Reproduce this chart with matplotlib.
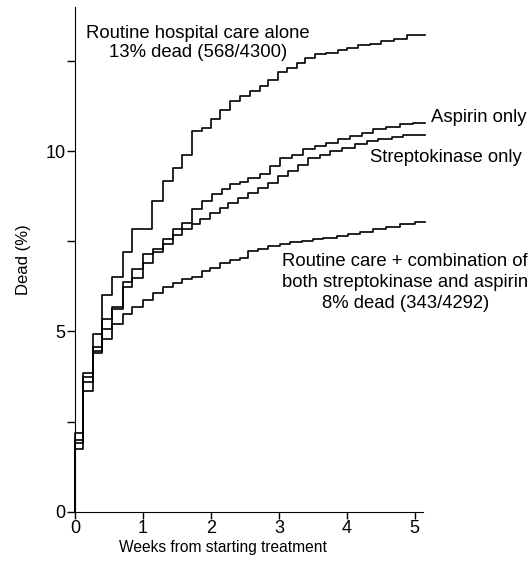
import matplotlib.pyplot as plt
from matplotlib.ticker import MultipleLocator

plt.rcParams["font.family"] = ["Liberation Sans", "DejaVu Sans"]

# step curves: (weeks at which the step starts, % dead)
x_control = [0, 0.12, 0.26, 0.40, 0.55, 0.70, 0.84, 1.14, 1.30, 1.44, 1.57, 1.72, 1.87,
             2.00, 2.13, 2.28, 2.43, 2.57, 2.72, 2.84, 2.99, 3.12, 3.26, 3.38, 3.53,
             3.70, 3.87, 4.00, 4.16, 4.34, 4.50, 4.70, 4.88]
y_control = [2.2, 3.84, 4.94, 6.02, 6.52, 7.2, 7.84, 8.62, 9.17, 9.53, 9.9, 10.55, 10.65,
             10.9, 11.15, 11.38, 11.52, 11.66, 11.8, 11.98, 12.2, 12.3, 12.43, 12.57, 12.68,
             12.72, 12.8, 12.85, 12.95, 12.98, 13.04, 13.12, 13.23]

x_aspirin = [0, 0.12, 0.26, 0.40, 0.55, 0.70, 0.84, 1.00, 1.15, 1.30, 1.44, 1.57, 1.72,
             1.87, 2.01, 2.16, 2.28, 2.43, 2.55, 2.72, 2.87, 3.01, 3.19, 3.35, 3.53,
             3.70, 3.87, 4.04, 4.22, 4.38, 4.58, 4.78, 4.97]
y_aspirin = [2.0, 3.73, 4.56, 5.36, 5.69, 6.36, 6.73, 7.15, 7.28, 7.56, 7.84, 8.02, 8.39,
             8.62, 8.8, 8.95, 9.08, 9.15, 9.26, 9.36, 9.6, 9.8, 9.9, 10.05, 10.14,
             10.22, 10.33, 10.41, 10.5, 10.6, 10.66, 10.75, 10.78]

x_strepto = [0, 0.12, 0.26, 0.40, 0.55, 0.70, 0.84, 1.00, 1.15, 1.30, 1.44, 1.57, 1.72,
             1.84, 1.99, 2.13, 2.25, 2.40, 2.54, 2.69, 2.84, 2.99, 3.13, 3.28, 3.43,
             3.60, 3.75, 3.93, 4.12, 4.29, 4.46, 4.66, 4.82]
y_strepto = [1.75, 3.6, 4.45, 5.08, 5.62, 6.24, 6.48, 6.91, 7.19, 7.42, 7.68, 7.84, 7.98,
             8.12, 8.29, 8.43, 8.56, 8.7, 8.84, 8.98, 9.12, 9.3, 9.45, 9.62, 9.8,
             9.9, 10.0, 10.08, 10.19, 10.28, 10.33, 10.39, 10.44]

x_combo = [0, 0.12, 0.26, 0.40, 0.55, 0.70, 0.84, 1.00, 1.15, 1.30, 1.44, 1.57, 1.72,
           1.87, 1.99, 2.13, 2.28, 2.43, 2.55, 2.69, 2.84, 3.01, 3.16, 3.34, 3.50,
           3.65, 3.85, 4.01, 4.19, 4.38, 4.58, 4.78, 5.00]
y_combo = [1.9, 3.34, 4.4, 4.78, 5.21, 5.49, 5.67, 5.88, 6.08, 6.24, 6.35, 6.46, 6.5,
           6.68, 6.77, 6.9, 6.98, 7.05, 7.24, 7.29, 7.38, 7.43, 7.47, 7.51, 7.57,
           7.6, 7.65, 7.71, 7.76, 7.84, 7.9, 7.98, 8.04]

x_end = 5.15

fig = plt.figure(figsize=(5.32, 5.65), dpi=100)
ax = fig.add_axes([0.141, 0.094, 0.654, 0.894])

for xs, ys in [(x_control, y_control), (x_aspirin, y_aspirin),
               (x_strepto, y_strepto), (x_combo, y_combo)]:
    # start at zero, step up, run on to the end of follow-up
    ax.plot([0] + xs + [x_end], [0] + ys + [ys[-1]], drawstyle="steps-post",
            color="black", linewidth=1.2, clip_on=False)

fs = 13.3
ax.text(1.81, 13.0, "Routine hospital care alone\n13% dead (568/4300)",
        ha="center", va="center", fontsize=fs, linespacing=1.1)
ax.text(5.24, 10.94, "Aspirin only", ha="left", va="center", fontsize=fs)
ax.text(4.34, 9.81, "Streptokinase only", ha="left", va="center", fontsize=fs)
ax.text(4.86, 6.35, "Routine care + combination of\nboth streptokinase and aspirin\n8% dead (343/4292)",
        ha="center", va="center", fontsize=fs, linespacing=1.3)

ax.set_xlim(0, 5.12)
ax.set_ylim(0, 14)
ax.xaxis.set_major_locator(MultipleLocator(1))
ax.yaxis.set_major_locator(MultipleLocator(5))
ax.yaxis.set_minor_locator(MultipleLocator(2.5))
ax.tick_params(axis="x", which="major", length=5, width=1, labelsize=13, pad=1)
ax.tick_params(axis="y", which="both", length=6, width=1, labelsize=13, pad=1)
ax.spines["top"].set_visible(False)
ax.spines["right"].set_visible(False)
ax.set_xlabel("Weeks from starting treatment", fontsize=11.2, labelpad=3)
ax.xaxis.set_label_coords(0.425, -0.055)
ax.set_ylabel("Dead (%)", fontsize=12, labelpad=10)

fig.savefig("out.png", dpi=100)
